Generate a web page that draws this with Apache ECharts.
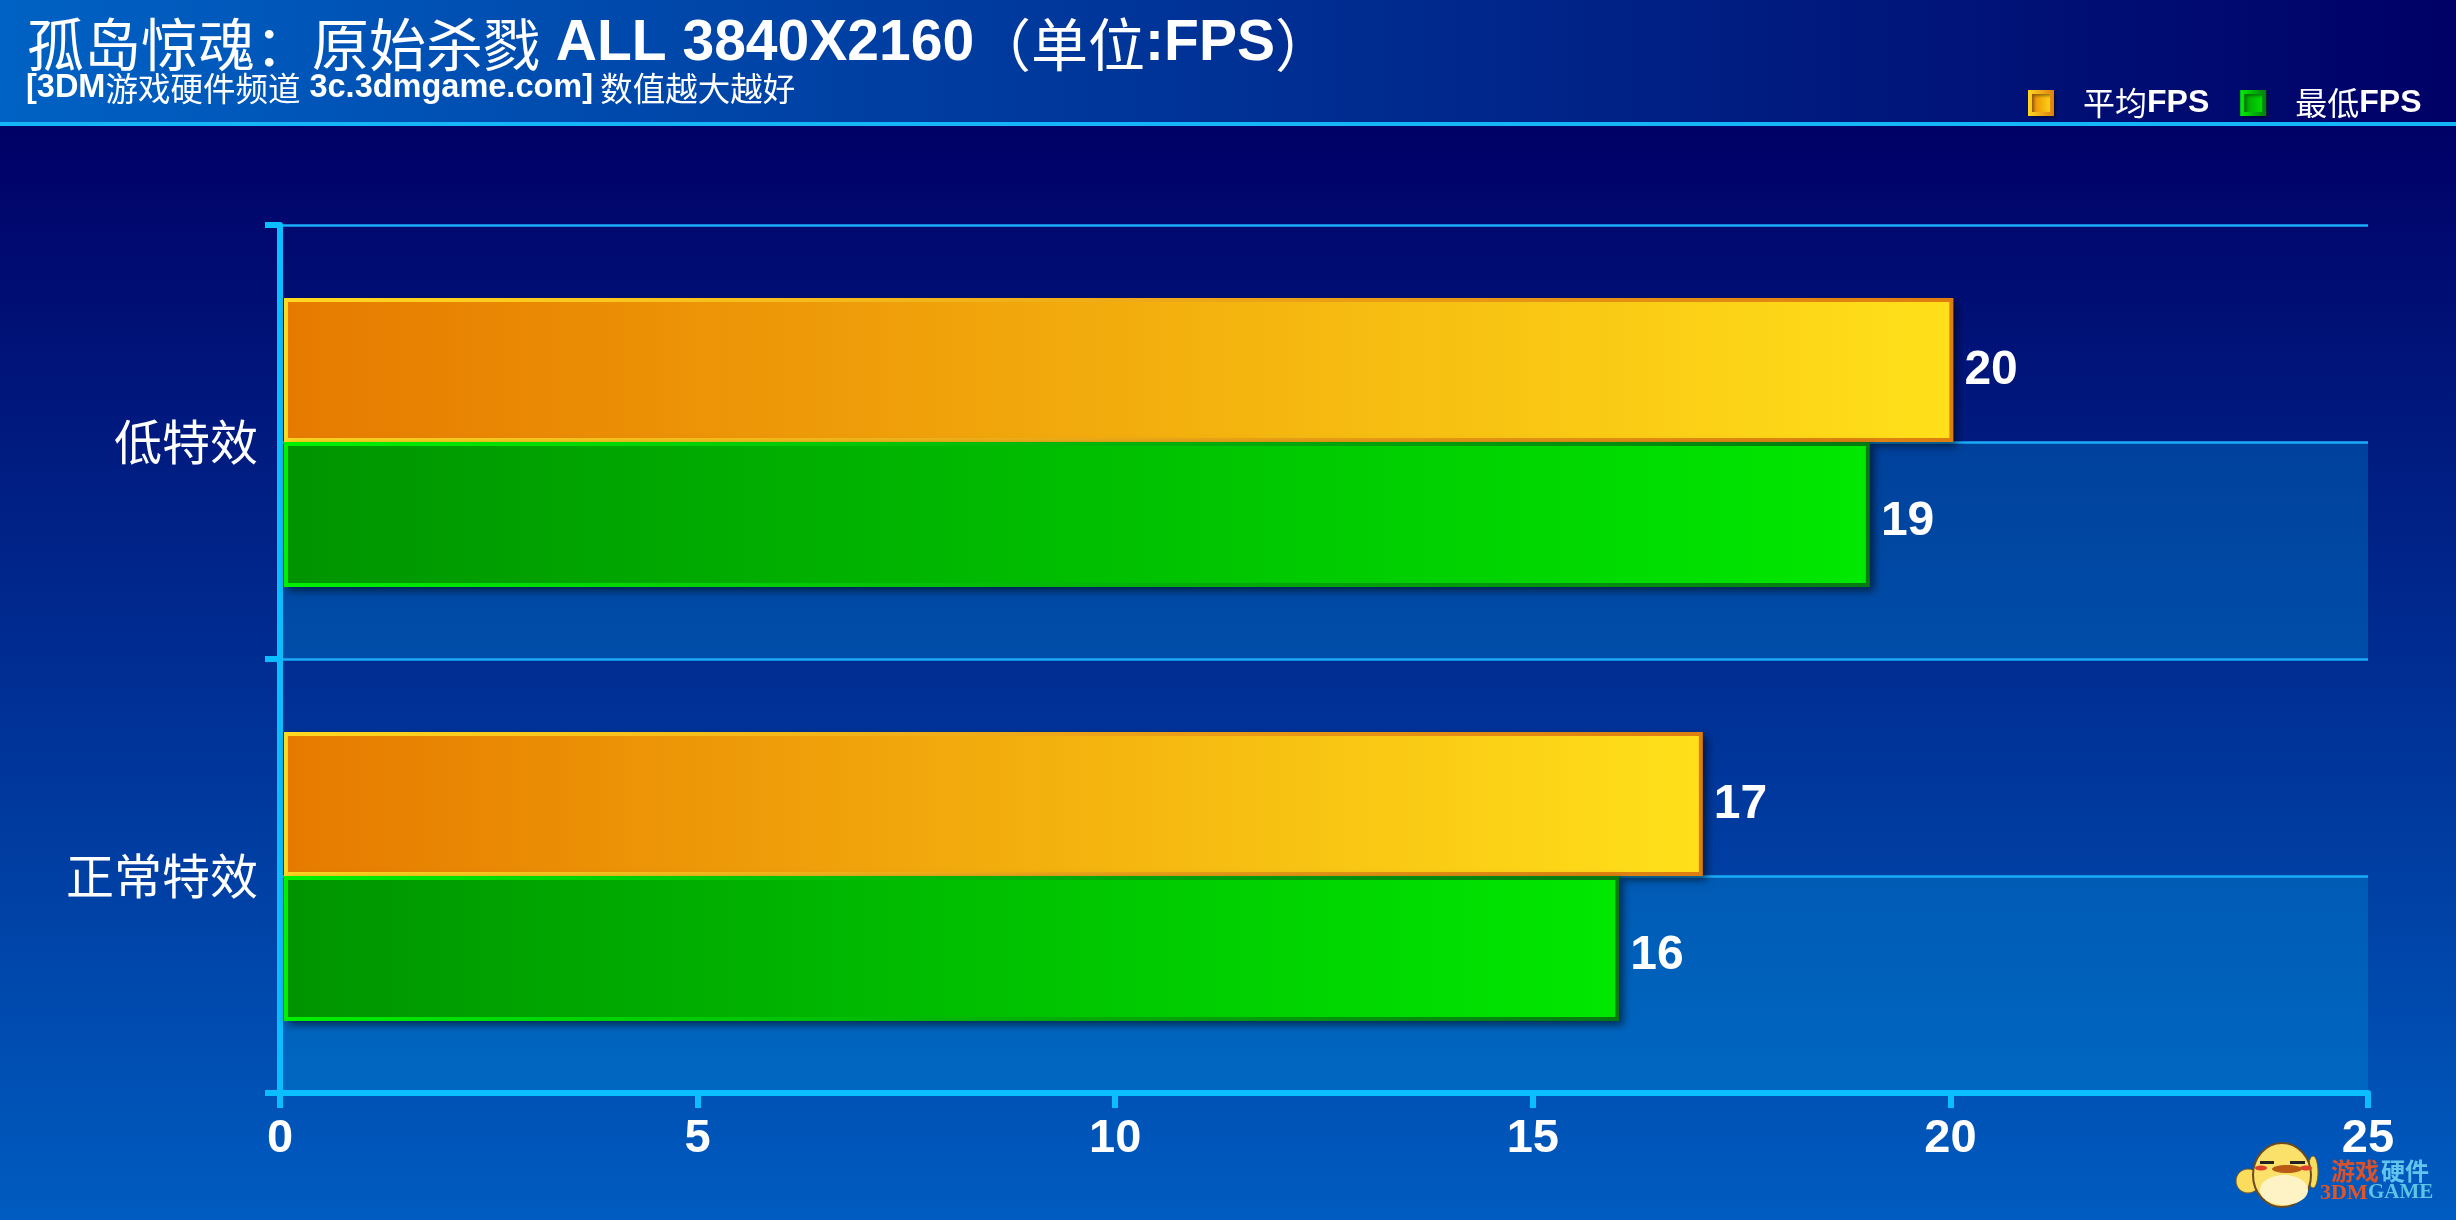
<!DOCTYPE html>
<html><head><meta charset="utf-8">
<style>html,body{margin:0;padding:0;background:#000066}#c{width:2456px;height:1220px}</style>
<script src="https://cdn.jsdelivr.net/npm/echarts@6/dist/echarts.min.js"></script>
</head><body><div id="c"></div>
<script>
const categories = ['低特效', '正常特效'];
const avgFps = [20, 17];
const minFps = [19, 16];
const xTicks = [0, 25, 5];
const titleCn = '孤岛惊魂：原始杀戮';
const titleEn = ' ALL 3840X2160';
const CJK = '"Noto Sans CJK SC"';
const LAT = '"Liberation Sans"';
const chart = echarts.init(document.getElementById('c'));
const G = echarts.graphic.LinearGradient;
const h = (a, b) => new G(0, 0, 1, 0, [{offset: 0, color: a}, {offset: 1, color: b}]);
const fillO = () => h('#E67A00', '#FFE01A'), strokeO = () => h('#FFD820', '#DE7E10');
const fillG = () => h('#009400', '#00E800'), strokeG = () => h('#00F000', '#067A12');
const shadow = {shadowColor: 'rgba(0,0,0,0.55)', shadowBlur: 8, shadowOffsetX: 4, shadowOffsetY: 4};

function barSeries(name, values, fill, stroke, y0, y1, labelDy) {
  return {
    name, type: 'custom', coordinateSystem: 'cartesian2d', xAxisIndex: 0, yAxisIndex: 0,
    encode: {x: 1, y: 0}, z: 5, silent: true, clip: false,
    itemStyle: {color: fill()},
    data: values.map((v, i) => [i, v]),
    renderItem(params, api) {
      const p = api.coord([api.value(1), api.value(0)]);
      const band = api.size([0, 1])[1];
      const x0 = api.coord([0, api.value(0)])[0] + 6;
      const shape = {x: x0, y: p[1] + band * y0, width: p[0] + 1 - x0, height: band * (y1 - y0)};
      return {type: 'group', children: [
        {type: 'rect', shape: {x: shape.x - 2, y: shape.y - 2, width: shape.width + 4, height: shape.height + 4},
         style: Object.assign({fill: '#000'}, shadow)},
        {type: 'rect', shape, style: {fill: fill(), stroke: stroke(), lineWidth: 4}},
        {type: 'text', x: p[0] + 14, y: p[1] + band * (y0 + y1) / 2 + labelDy,
         style: {text: String(api.value(1)), fill: '#fff', font: 'bold 48px ' + LAT, textAlign: 'left', textVerticalAlign: 'middle'}}
      ]};
    }
  };
}

const logoText = (t, x, y, size, fill, font) => ({type: 'text', x, y, z: 21,
  style: {text: t, fill, font: 'bold ' + size + 'px ' + font, textVerticalAlign: 'middle'}});

chart.setOption({
  animation: false,
  backgroundColor: new G(0, 0, 0, 1, [{offset: 0, color: '#000066'}, {offset: 0.103, color: '#000066'}, {offset: 1, color: '#005CC0'}]),
  title: [{
    left: 22, top: 11,
    text: `{cn|${titleCn}}{en|${titleEn}}{cn|（单位}{en|:FPS}{cn|）}`,
    textStyle: {rich: {
      cn: {fontFamily: CJK, fontSize: 57, color: '#fff', fontWeight: 'normal'},
      en: {fontFamily: LAT, fontSize: 57, color: '#fff', fontWeight: 'bold'}
    }}
  }, {
    left: 21, top: 67,
    text: '{en|[3DM}{cn|游戏硬件频道}{en| 3c.3dmgame.com]}{cn| 数值越大越好}',
    textStyle: {rich: {
      cn: {fontFamily: CJK, fontSize: 32.5, color: '#fff', fontWeight: 'normal'},
      en: {fontFamily: LAT, fontSize: 32.5, color: '#fff', fontWeight: 'bold'}
    }}
  }],
  legend: {
    left: 2023, top: 82, itemWidth: 22, itemHeight: 22, itemGap: 31, icon: 'rect',
    selectedMode: false,
    formatter: n => `{cn|${n.slice(0, 2)}}{en|${n.slice(2)}}`,
    textStyle: {rich: {
      cn: {fontFamily: CJK, fontSize: 32, color: '#fff', padding: [0, 0, 0, 26]},
      en: {fontFamily: LAT, fontSize: 32, color: '#fff', fontWeight: 'bold'}
    }},
    data: [
      {name: '平均FPS', itemStyle: Object.assign({color: fillO(), borderColor: strokeO(), borderWidth: 4}, {shadowColor: 'rgba(0,0,0,0.4)', shadowBlur: 3, shadowOffsetX: 2, shadowOffsetY: 2})},
      {name: '最低FPS', itemStyle: Object.assign({color: fillG(), borderColor: strokeG(), borderWidth: 4}, {shadowColor: 'rgba(0,0,0,0.4)', shadowBlur: 3, shadowOffsetX: 2, shadowOffsetY: 2})}
    ]
  },
  grid: {left: 280, right: 88, top: 225, bottom: 127, containLabel: false},
  xAxis: {
    type: 'value', min: xTicks[0], max: xTicks[1], interval: xTicks[2],
    axisLine: {show: true, onZero: false, lineStyle: {color: '#0ABEFF', width: 6}},
    axisTick: {show: true, length: 15, lineStyle: {color: '#0ABEFF', width: 6}},
    axisLabel: {color: '#fff', fontFamily: LAT, fontWeight: 'bold', fontSize: 47, margin: 23},
    splitLine: {show: false}
  },
  yAxis: [{
    type: 'category', inverse: true, data: categories,
    axisLine: {show: true, onZero: false, lineStyle: {color: '#0ABEFF', width: 6}},
    axisTick: {show: true, length: 15, lineStyle: {color: '#0ABEFF', width: 6}},
    axisLabel: {color: '#fff', fontFamily: CJK, fontSize: 48, margin: 22, padding: [0, 0, 3, 0]},
    splitLine: {show: false}, z: 3
  }, {
    type: 'category', inverse: true, data: ['a', 'b', 'c', 'd'], position: 'left',
    axisLine: {show: false}, axisTick: {show: false}, axisLabel: {show: false},
    splitLine: {show: true, lineStyle: {color: '#1AACF8', width: 2.5}},
    splitArea: {show: true, areaStyle: {color: ['rgba(0,0,0,0)', 'rgba(0,156,223,0.3)']}}
  }],
  series: [
    barSeries('平均FPS', avgFps, fillO, strokeO, -142 / 434, -2 / 434, 1),
    barSeries('最低FPS', minFps, fillG, strokeG, 2 / 434, 143 / 434, 7)
  ],
  graphic: [
    {type: 'rect', z: -1, silent: true, shape: {x: 0, y: 0, width: 2456, height: 122},
     style: {fill: new G(0, 0, 1, 0, [{offset: 0, color: '#0062C4'}, {offset: 1, color: '#000066'}])}},
    {type: 'rect', z: -1, silent: true, shape: {x: 0, y: 122, width: 2456, height: 4}, style: {fill: '#14B6F8'}},
    // 3DM mascot logo
    {type: 'ellipse', z: 20, silent: true, shape: {cx: 2248, cy: 1181, rx: 12, ry: 12}, style: {fill: '#FBDD5E', stroke: '#7A5A20', lineWidth: 1}},
    {type: 'ellipse', z: 20, silent: true, shape: {cx: 2313, cy: 1172, rx: 5, ry: 16}, style: {fill: '#FBDD5E', stroke: '#7A5A20', lineWidth: 1}},
    {type: 'ellipse', z: 20, silent: true, shape: {cx: 2282, cy: 1175, rx: 29, ry: 32}, style: {fill: '#FBE06A', stroke: '#6A4A20', lineWidth: 2}},
    {type: 'ellipse', z: 20, silent: true, shape: {cx: 2284, cy: 1190, rx: 24, ry: 15}, style: {fill: '#FDF3C4'}},
    {type: 'rect', z: 20, silent: true, shape: {x: 2260, y: 1161, width: 14, height: 3}, style: {fill: '#222'}},
    {type: 'rect', z: 20, silent: true, shape: {x: 2290, y: 1161, width: 15, height: 3}, style: {fill: '#222'}},
    {type: 'ellipse', z: 20, silent: true, shape: {cx: 2261, cy: 1168, rx: 6, ry: 2.5}, style: {fill: '#E0402A'}},
    {type: 'ellipse', z: 20, silent: true, shape: {cx: 2306, cy: 1168, rx: 6, ry: 2.5}, style: {fill: '#E0402A'}},
    {type: 'ellipse', z: 20, silent: true, shape: {cx: 2287, cy: 1169, rx: 15, ry: 4}, style: {fill: '#B85A14'}},
    logoText('游戏', 2331, 1171, 24, '#D8522C', CJK),
    logoText('硬件', 2381, 1171, 24, '#62C4EC', CJK),
    logoText('3DM', 2320, 1193, 22, '#E0562A', '"Liberation Serif"'),
    logoText('GAME', 2368, 1193, 21, '#5CC4E4', '"Liberation Serif"')
  ]
});
</script></body></html>
